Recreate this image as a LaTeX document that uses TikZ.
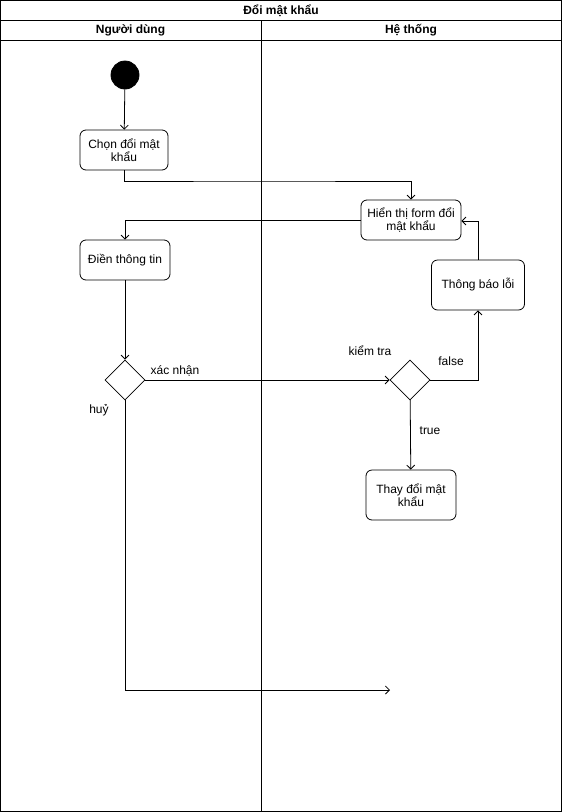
\documentclass[tikz,border=0pt]{standalone}
\usepackage{fontspec}
\setmainfont{Liberation Sans}
\usetikzlibrary{positioning, arrows.meta, shapes.geometric, calc}

\begin{document}
\begin{tikzpicture}[
  x=1pt, y=-1pt,
  line width=0.8pt,
  every node/.style={font=\fontsize{12}{13.5}\selectfont},
  act/.style={draw, rounded corners=6pt, align=center, inner sep=2pt},
  choice/.style={draw, diamond, minimum width=40pt, minimum height=40pt, inner sep=0pt},
  flow/.style={-{Straight Barb[length=4pt,width=8pt]}},
  lbl/.style={inner sep=1pt},
]
  \useasboundingbox (0,0) rectangle (562,812);
  % swimlanes
  \draw (0.5,0.5) rectangle (561.5,811.5);
  \draw (0.5,20.5) -- (561.5,20.5);
  \draw (0.5,40.5) -- (561.5,40.5);
  \draw (261,20.5) -- (261,811.5);
  \node (title) at (281,10.5) {\textbf{Đổi mật khẩu}};
  \node (laneUser) at (130.5,30.5) {\textbf{Người dùng}};
  \node (laneSys) at (411,30.5) {\textbf{Hệ thống}};

  % nodes
  \node[draw, circle, fill=black, minimum size=28pt, inner sep=0pt] (start) at (125,75) {};
  \node[act, minimum width=88pt, minimum height=40pt] (choose) at (124,150) {Chọn đổi mật\\khẩu};
  \node[act, minimum width=100pt, minimum height=40pt] (showForm) at (411,220) {Hiển thị form đổi\\mật khẩu};
  \node[act, minimum width=90pt, minimum height=40pt] (fillIn) at (125,260) {Điền thông tin};
  \node[act, minimum width=93pt, minimum height=50pt] (errMsg) at (478,285) {Thông báo lỗi};
  \node[choice] (confirm) at (125,380) {};
  \node[choice] (check) at (410,380) {};
  \node[act, minimum width=90pt, minimum height=50pt] (change) at (411,495) {Thay đổi mật\\khẩu};
  \coordinate (cancelEnd) at (390,690);

  % connectors
  \draw[flow] (start) -- (choose);
  \draw[flow] (choose.south) |- (261,181) -| (showForm.north);
  \draw[flow] (showForm.west) -| (fillIn.north);
  \draw[flow] (fillIn) -- (confirm);
  \draw[flow] (confirm) -- (check);
  \draw[flow] (check.east) -| (errMsg.south);
  \draw[flow] (errMsg.north) |- ($(showForm.east)+(0,1)$);
  \draw[flow] (check) -- (change);
  \draw[flow] (confirm.south) |- (cancelEnd);

  % labels
  \node[lbl] (lblOk) at (175,371) {xác nhận};
  \node[lbl] (lblCancel) at (99,410) {huỷ};
  \node[lbl] (lblCheck) at (370,351) {kiểm tra};
  \node[lbl] (lblFalse) at (451,361) {false};
  \node[lbl] (lblTrue) at (430,431) {true};
\end{tikzpicture}
\end{document}
